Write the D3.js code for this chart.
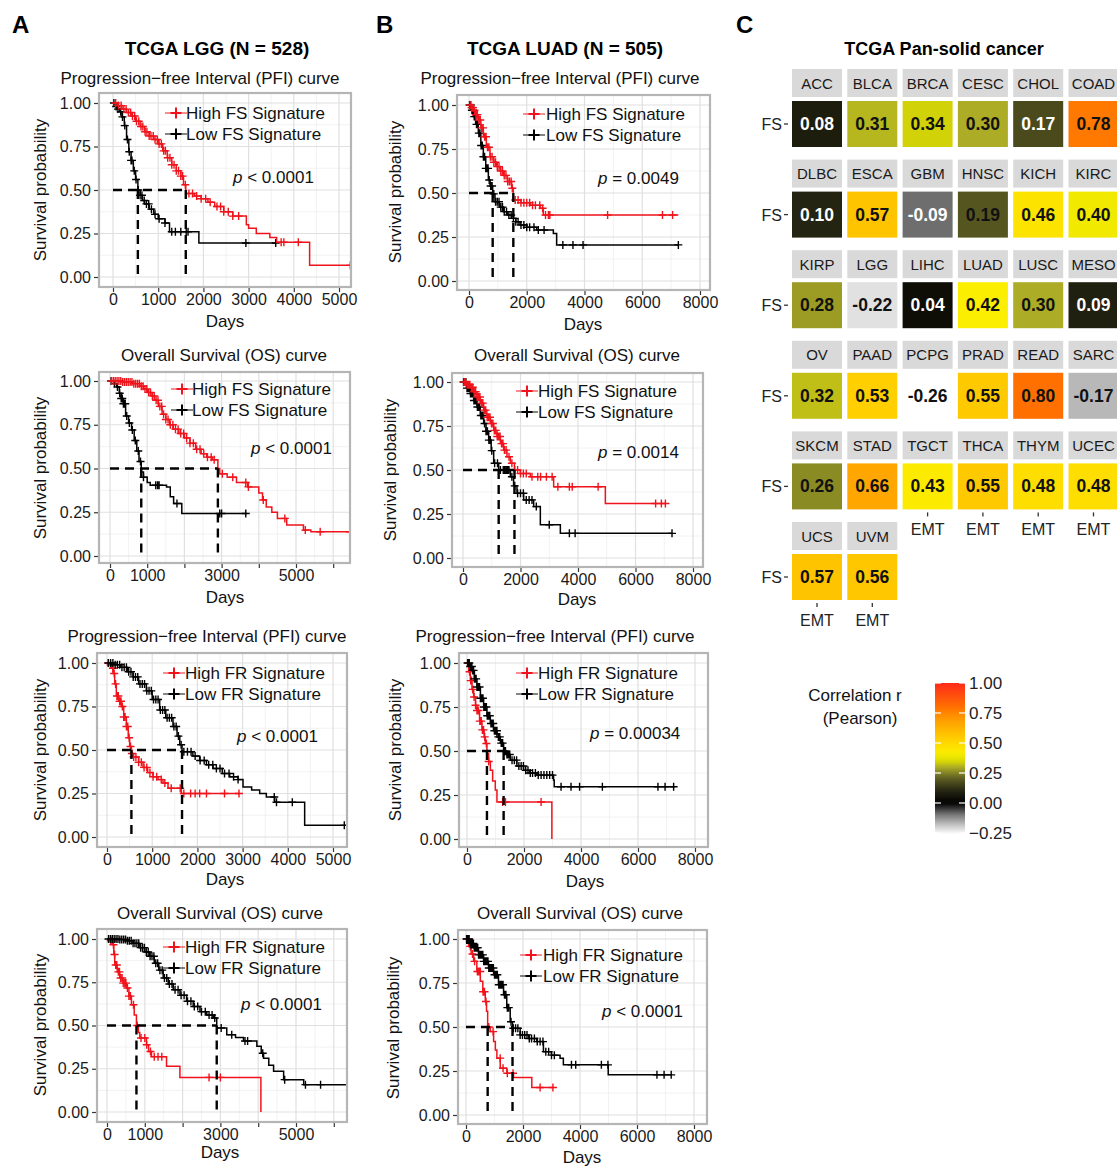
<!DOCTYPE html>
<html><head><meta charset="utf-8">
<script src="https://cdn.jsdelivr.net/npm/d3@7"></script>
<style>
body{margin:0;background:#fff}
svg{display:block}
text{font-family:"Liberation Sans",Arial,Helvetica,sans-serif}
</style>
</head><body>
<svg id="c" width="1117" height="1167"></svg>
<script>
// ===================== DATA =====================
// Kaplan-Meier step points [days, survival probability]
const lggPfiFsHigh = [[0,1],[100,0.985],[200,0.965],[300,0.945],[400,0.925],[500,0.895],[600,0.865],[700,0.835],[800,0.81],[900,0.79],[1000,0.765],[1100,0.725],[1200,0.685],[1300,0.645],[1400,0.61],[1500,0.58],[1560,0.53],[1610,0.48],[1800,0.465],[1950,0.45],[2100,0.43],[2250,0.405],[2450,0.375],[2650,0.35],[2950,0.30],[3000,0.28],[3170,0.25],[3470,0.227],[3620,0.20],[4350,0.067],[5300,0.067]];
const lggPfiFsLow = [[0,1],[50,0.98],[100,0.965],[150,0.95],[200,0.92],[250,0.87],[300,0.79],[350,0.72],[400,0.67],[450,0.61],[500,0.56],[550,0.50],[600,0.47],[650,0.44],[700,0.42],[800,0.39],[900,0.36],[1000,0.335],[1150,0.31],[1250,0.26],[1900,0.195],[3610,0.195]];
const lggPfiFsHighCens = [60,120,180,240,290,340,390,430,480,520,570,620,660,710,750,800,840,890,930,980,1020,1070,1120,1160,1210,1260,1300,1350,1400,1450,1500,1540,1600,1680,1760,1850,1950,2050,2150,2300,2380,2450,2550,2650,2780,3720,3780,4100,5250];
const lggPfiFsLowCens = [20,70,110,170,210,260,320,360,400,420,470,510,560,600,640,690,740,790,850,930,1020,1150,1300,1380,1500,1620,1660,2940,3600];

const lggOsFsHigh = [[0,1],[300,0.995],[600,0.985],[800,0.97],[900,0.955],[1000,0.935],[1100,0.915],[1200,0.89],[1300,0.855],[1400,0.81],[1500,0.78],[1600,0.75],[1700,0.725],[1850,0.70],[2000,0.675],[2150,0.645],[2300,0.61],[2450,0.585],[2600,0.565],[2750,0.55],[2900,0.50],[2950,0.47],[3150,0.45],[3400,0.42],[3700,0.395],[4000,0.36],[4100,0.32],[4200,0.28],[4350,0.25],[4500,0.215],[4750,0.177],[5200,0.148],[5400,0.139],[6480,0.139]];
const lggOsFsLow = [[0,1],[100,0.985],[180,0.966],[250,0.93],[300,0.9],[360,0.87],[420,0.80],[500,0.76],[580,0.72],[650,0.66],[720,0.60],[780,0.54],[840,0.48],[900,0.45],[1000,0.42],[1080,0.405],[1520,0.395],[1620,0.338],[1710,0.30],[1930,0.243],[3680,0.243]];
const lggOsFsHighCens = [40,90,140,190,240,290,340,390,440,490,540,590,640,690,740,790,840,890,940,990,1040,1090,1140,1190,1240,1290,1340,1390,1440,1500,1560,1620,1690,1760,1830,1900,1980,2060,2150,2240,2330,2420,2520,2620,2720,2800,3020,3300,3650,3720,4120,4700,5250,5650,6450];
const lggOsFsLowCens = [30,120,200,260,300,330,360,380,410,450,520,600,680,760,820,900,1230,1280,1320,1800,2950,3000,3650];

const lggPfiFrHigh = [[0,1],[60,0.99],[100,0.97],[133,0.94],[170,0.88],[206,0.81],[260,0.78],[317,0.75],[370,0.69],[428,0.635],[470,0.57],[501,0.52],[540,0.48],[575,0.46],[700,0.43],[797,0.40],[900,0.37],[1018,0.346],[1130,0.33],[1239,0.31],[1350,0.28],[1645,0.25],[2950,0.25]];
const lggPfiFrLow = [[0,1],[150,0.99],[300,0.975],[450,0.95],[575,0.92],[700,0.88],[870,0.84],[1000,0.79],[1165,0.73],[1300,0.685],[1460,0.635],[1550,0.58],[1610,0.53],[1660,0.49],[1900,0.465],[2050,0.44],[2200,0.415],[2345,0.394],[2550,0.365],[2714,0.346],[2900,0.33],[3009,0.288],[3200,0.27],[3378,0.25],[3525,0.23],[3710,0.20],[4373,0.067],[5300,0.067]];
const lggPfiFrHighCens = [30,80,130,160,190,220,250,280,310,340,370,400,430,460,490,520,550,590,640,700,760,820,880,950,1020,1100,1200,1280,1420,1620,1700,1850,1950,2050,2200,2600,2920];
const lggPfiFrLowCens = [30,80,130,180,230,280,330,380,430,480,530,580,630,680,730,780,830,880,930,980,1030,1080,1130,1180,1230,1280,1330,1380,1430,1480,1530,1580,1640,1700,1780,1860,1950,2060,2150,2250,2340,2420,2500,2600,2700,2800,2900,3700,3750,4100,5250];

const lggOsFrHigh = [[0,1],[100,0.99],[159,0.967],[180,0.91],[204,0.85],[270,0.81],[336,0.775],[420,0.745],[513,0.717],[580,0.67],[646,0.62],[720,0.56],[779,0.50],[830,0.46],[867,0.428],[1044,0.389],[1100,0.35],[1177,0.32],[1575,0.264],[1929,0.20],[4071,0]];
const lggOsFrLow = [[0,1],[300,0.997],[500,0.99],[690,0.975],[850,0.95],[1000,0.925],[1133,0.90],[1250,0.86],[1370,0.82],[1487,0.775],[1620,0.74],[1752,0.707],[1930,0.675],[2106,0.64],[2280,0.61],[2460,0.58],[2640,0.56],[2814,0.543],[2903,0.486],[3168,0.447],[3400,0.43],[3611,0.41],[3965,0.38],[4080,0.34],[4142,0.31],[4280,0.27],[4407,0.235],[4673,0.187],[5204,0.158],[6430,0.158]];
const lggOsFrHighCens = [100,140,170,200,230,260,300,330,360,400,430,470,500,540,580,620,700,800,900,1000,1050,1150,1250,1350,1450,2700,3000];
const lggOsFrLowCens = [40,90,140,190,240,290,340,390,440,490,540,590,640,690,740,790,840,890,940,990,1040,1090,1140,1190,1240,1290,1340,1400,1460,1520,1580,1650,1720,1800,1880,1960,2040,2130,2220,2310,2400,2500,2600,2700,2780,2850,3020,3300,3650,3720,4120,4700,5250,5650,6430];

const luadPfiFsHigh = [[0,1],[80,0.985],[150,0.97],[230,0.945],[323,0.915],[410,0.87],[496,0.82],[600,0.76],[727,0.706],[850,0.675],[958,0.65],[1080,0.625],[1189,0.60],[1330,0.565],[1478,0.527],[1535,0.46],[1800,0.445],[2113,0.43],[2459,0.413],[2574,0.375],[7250,0.375]];
const luadPfiFsLow = [[0,1],[70,0.97],[150,0.934],[230,0.89],[323,0.84],[410,0.77],[496,0.706],[580,0.64],[670,0.574],[730,0.54],[820,0.495],[900,0.45],[1050,0.42],[1189,0.394],[1330,0.375],[1478,0.356],[1620,0.337],[1766,0.318],[2000,0.305],[2344,0.29],[2921,0.27],[3036,0.205],[7250,0.205]];
const luadPfiFsHighCens = [40,90,140,190,240,290,340,390,440,490,540,590,640,690,740,800,860,920,980,1040,1100,1160,1220,1280,1340,1400,1460,1500,1600,1700,1800,1900,2000,2100,2200,2300,2450,2550,2650,2750,2800,4800,6700,7050];
const luadPfiFsLowCens = [20,60,100,140,180,220,260,300,340,380,420,460,500,540,580,620,660,700,750,800,860,920,980,1040,1100,1160,1220,1300,1380,1460,1540,1620,1700,1800,1900,2000,2100,2250,2400,2600,3250,3600,3950,7250];

const luadOsFsHigh = [[0,1],[120,0.985],[255,0.97],[370,0.945],[487,0.915],[600,0.88],[719,0.84],[830,0.80],[951,0.764],[1070,0.725],[1183,0.69],[1300,0.65],[1414,0.613],[1530,0.575],[1646,0.538],[1790,0.50],[1994,0.48],[2342,0.462],[3153,0.405],[4951,0.31],[7040,0.31]];
const luadOsFsLow = [[0,1],[120,0.965],[255,0.934],[370,0.895],[487,0.858],[600,0.81],[719,0.764],[800,0.72],[893,0.67],[980,0.61],[1067,0.538],[1241,0.50],[1646,0.462],[1760,0.41],[1878,0.368],[2110,0.33],[2458,0.292],[2690,0.189],[3386,0.14],[7270,0.14]];
const luadOsFsHighCens = [40,90,140,190,240,290,340,390,440,490,540,590,640,690,740,790,840,890,940,990,1040,1090,1140,1190,1240,1290,1340,1390,1440,1500,1600,1700,1800,1900,2000,2100,2200,2400,2600,2700,2900,3100,3300,3700,3800,4700,6700,6900,7040];
const luadOsFsLowCens = [20,60,100,140,180,220,260,300,340,380,420,460,500,540,580,620,660,700,750,800,850,900,950,1000,1100,1200,1300,1400,1450,1500,1550,1600,1700,1800,1900,2000,2100,2200,2300,2400,2550,3000,3700,3900,7270];

const luadPfiFrHigh = [[0,1],[60,0.95],[117,0.90],[175,0.85],[234,0.807],[300,0.76],[350,0.73],[440,0.67],[526,0.62],[600,0.58],[642,0.543],[700,0.486],[760,0.44],[818,0.39],[900,0.33],[993,0.278],[1051,0.21],[2978,0]];
const luadPfiFrLow = [[0,1],[90,0.98],[175,0.958],[260,0.91],[350,0.864],[470,0.80],[584,0.75],[700,0.70],[818,0.656],[930,0.615],[1051,0.58],[1170,0.545],[1285,0.50],[1400,0.48],[1518,0.448],[1750,0.415],[1986,0.39],[2200,0.375],[2453,0.363],[3037,0.335],[3060,0.297],[7300,0.297]];
const luadPfiFrHighCens = [40,90,130,160,200,250,300,350,400,450,500,540,580,620,680,760,1250,1350,2600];
const luadPfiFrLowCens = [20,50,80,110,140,170,200,230,260,290,320,350,380,410,440,470,500,530,560,590,620,650,680,710,740,770,800,840,880,920,960,1000,1050,1100,1150,1200,1250,1300,1350,1400,1450,1500,1580,1660,1740,1820,1900,1980,2060,2140,2220,2300,2400,2500,2600,2700,2800,2900,3000,3300,3650,3950,4750,6700,6950,7250];

const luadOsFrHigh = [[0,1],[93,0.958],[180,0.915],[268,0.873],[380,0.815],[501,0.76],[590,0.70],[676,0.645],[720,0.59],[760,0.50],[851,0.474],[968,0.417],[1030,0.37],[1084,0.323],[1201,0.266],[1434,0.237],[1667,0.213],[2309,0.156],[3067,0.156]];
const luadOsFrLow = [[0,1],[130,0.975],[268,0.95],[440,0.91],[618,0.873],[790,0.835],[968,0.797],[1140,0.74],[1318,0.683],[1430,0.61],[1551,0.53],[1632,0.493],[1900,0.455],[2200,0.435],[2484,0.417],[2717,0.36],[3000,0.34],[3300,0.323],[3416,0.285],[4932,0.285],[4990,0.228],[7206,0.228]];
const luadOsFrHighCens = [30,80,150,230,300,400,450,500,600,650,700,800,950,1200,1300,1450,1650,2600,3050];
const luadOsFrLowCens = [20,50,80,110,140,170,200,230,260,290,320,350,380,410,440,470,500,530,560,590,620,650,680,710,740,770,800,840,880,920,960,1000,1050,1100,1150,1200,1250,1300,1350,1400,1450,1500,1580,1660,1740,1820,1900,1980,2060,2140,2220,2300,2400,2500,2600,2700,2800,2900,3000,3100,3700,3850,4750,4980,6700,6950,7200];

const yTicks = [0, 0.25, 0.5, 0.75, 1];
const lggXTicks = [0,1000,2000,3000,4000,5000];
const lggOsXTicks = [0,1000,2000,3000,4000,5000,6000];
const lggOsXLabels = [0,1000,3000,5000];
const luadXTicks = [0,2000,4000,6000,8000];
const pValues = ["< 0.0001","< 0.0001","< 0.0001","< 0.0001","= 0.0049","= 0.0014","= 0.00034","< 0.0001"];

// Heatmap (panel C)
const cancers = ["ACC","BLCA","BRCA","CESC","CHOL","COAD","DLBC","ESCA","GBM","HNSC","KICH","KIRC","KIRP","LGG","LIHC","LUAD","LUSC","MESO","OV","PAAD","PCPG","PRAD","READ","SARC","SKCM","STAD","TGCT","THCA","THYM","UCEC","UCS","UVM"];
const fsCorr = [0.08,0.31,0.34,0.30,0.17,0.78,0.10,0.57,-0.09,0.19,0.46,0.40,0.28,-0.22,0.04,0.42,0.30,0.09,0.32,0.53,-0.26,0.55,0.80,-0.17,0.26,0.66,0.43,0.55,0.48,0.48,0.57,0.56];
const legendTicks = [1.00,0.75,0.50,0.25,0.00,-0.25];
const colorStops = [-0.26,-0.2,-0.1,0,0.1,0.2,0.3,0.35,0.42,0.5,0.6,0.7,0.8,1.0];
const colorValues = ["#ffffff","#d2d2d2","#7a7a7a","#000000","#242412","#5a5a22","#acac26","#dcdc00","#fbee00","#ffd800","#ffbb00","#ff9a00","#ff7000","#ff2a1a"];

// ===================== LAYOUT =====================
const plots = [
 {title:"Progression\u2212free Interval (PFI) curve", tx:200, ty:78, box:[99,93,351,287], xmax:5000, xr:[113,339], yr:[277,103], ticks:lggXTicks, labels:lggXTicks,
  high:lggPfiFsHigh, low:lggPfiFsLow, highC:lggPfiFsHighCens, lowC:lggPfiFsLowCens, sig:"FS", kx:176, kt:186, ly:[113,134], px:233, py:177, days:[225,322], ylab:[40,190]},
 {title:"Overall Survival (OS) curve", tx:224, ty:355, box:[99,372,350,563], xmax:5000, xr:[110,296], yr:[556,381], ticks:lggOsXTicks, labels:lggOsXLabels,
  high:lggOsFsHigh, low:lggOsFsLow, highC:lggOsFsHighCens, lowC:lggOsFsLowCens, sig:"FS", kx:182, kt:192, ly:[389,410], px:251, py:448, days:[225,598], ylab:[40,468]},
 {title:"Progression\u2212free Interval (PFI) curve", tx:207, ty:636, box:[97,653,347,847], xmax:5000, xr:[107,333], yr:[837,663], ticks:lggXTicks, labels:lggXTicks,
  high:lggPfiFrHigh, low:lggPfiFrLow, highC:lggPfiFrHighCens, lowC:lggPfiFrLowCens, sig:"FR", kx:174, kt:185, ly:[673,694], px:237, py:736, days:[225,880], ylab:[40,750]},
 {title:"Overall Survival (OS) curve", tx:220, ty:913, box:[97,929,347,1122], xmax:5000, xr:[107,296], yr:[1112,939], ticks:lggOsXTicks, labels:lggOsXLabels,
  high:lggOsFrHigh, low:lggOsFrLow, highC:lggOsFrHighCens, lowC:lggOsFrLowCens, sig:"FR", kx:174, kt:185, ly:[947,968], px:241, py:1004, days:[220,1153], ylab:[40,1025]},
 {title:"Progression\u2212free Interval (PFI) curve", tx:560, ty:78, box:[457,95,710,290], xmax:8000, xr:[469,700], yr:[281,105], ticks:luadXTicks, labels:luadXTicks,
  high:luadPfiFsHigh, low:luadPfiFsLow, highC:luadPfiFsHighCens, lowC:luadPfiFsLowCens, sig:"FS", kx:534, kt:546, ly:[114,135], px:598, py:178, days:[583,325], ylab:[395,192]},
 {title:"Overall Survival (OS) curve", tx:577, ty:355, box:[452,373,703,567], xmax:8000, xr:[463,693], yr:[558,382], ticks:luadXTicks, labels:luadXTicks,
  high:luadOsFsHigh, low:luadOsFsLow, highC:luadOsFsHighCens, lowC:luadOsFsLowCens, sig:"FS", kx:527, kt:538, ly:[391,412], px:598, py:452, days:[577,600], ylab:[390,470]},
 {title:"Progression\u2212free Interval (PFI) curve", tx:555, ty:636, box:[459,653,708,847], xmax:8000, xr:[467,695], yr:[839,663], ticks:luadXTicks, labels:luadXTicks,
  high:luadPfiFrHigh, low:luadPfiFrLow, highC:luadPfiFrHighCens, lowC:luadPfiFrLowCens, sig:"FR", kx:527, kt:538, ly:[673,694], px:590, py:733, days:[585,882], ylab:[395,750]},
 {title:"Overall Survival (OS) curve", tx:580, ty:913, box:[458,930,707,1124], xmax:8000, xr:[466,694], yr:[1115,939], ticks:luadXTicks, labels:luadXTicks,
  high:luadOsFrHigh, low:luadOsFrLow, highC:luadOsFrHighCens, lowC:luadOsFrLowCens, sig:"FR", kx:531, kt:543, ly:[955,976], px:602, py:1011, days:[582,1158], ylab:[393,1028]}
];

const RED = "#f0131b";
const svg = d3.select("#c");

// panel letters and column titles
svg.append("text").attr("x",12).attr("y",33).attr("font-size",24).attr("font-weight","bold").text("A");
svg.append("text").attr("x",376).attr("y",33).attr("font-size",24).attr("font-weight","bold").text("B");
svg.append("text").attr("x",736).attr("y",33).attr("font-size",24).attr("font-weight","bold").text("C");
svg.append("text").attr("x",217).attr("y",55).attr("font-size",19).attr("font-weight","bold").attr("text-anchor","middle").text("TCGA LGG (N = 528)");
svg.append("text").attr("x",565).attr("y",55).attr("font-size",19).attr("font-weight","bold").attr("text-anchor","middle").text("TCGA LUAD (N = 505)");

function stepVal(curve, t){ let v = curve[0][1]; for (const [tt,s] of curve){ if (tt <= t) v = s; else break; } return v; }
function medianOf(curve){ const p = curve.find(d => d[1] <= 0.5); return p ? p[0] : null; }
function plusPath(x,y,r){ return `M${x-r},${y}H${x+r}M${x},${y-r}V${y+r}`; }

plots.forEach((p, i) => {
  const g = svg.append("g");
  const [bx1,by1,bx2,by2] = p.box;
  const xs = d3.scaleLinear().domain([0,p.xmax]).range(p.xr);
  const ys = d3.scaleLinear().domain([0,1]).range(p.yr);

  // title
  g.append("text").attr("x",p.tx).attr("y",p.ty+6).attr("text-anchor","middle").attr("font-size",17).attr("fill","#111").text(p.title);

  // grid
  const step = p.ticks[1]-p.ticks[0];
  const tMin = xs.invert(bx1), tMax = xs.invert(bx2);
  const xMinor = d3.range(-step/2, tMax, step).filter(t => t > tMin && t < tMax);
  const yMinor = [0.125,0.375,0.625,0.875];
  g.selectAll(null).data(xMinor).join("line").attr("x1",d=>xs(d)).attr("x2",d=>xs(d)).attr("y1",by1).attr("y2",by2).attr("stroke","#efefef").attr("stroke-width",0.8);
  g.selectAll(null).data(yMinor).join("line").attr("y1",d=>ys(d)).attr("y2",d=>ys(d)).attr("x1",bx1).attr("x2",bx2).attr("stroke","#efefef").attr("stroke-width",0.8);
  g.selectAll(null).data(p.ticks).join("line").attr("x1",d=>xs(d)).attr("x2",d=>xs(d)).attr("y1",by1).attr("y2",by2).attr("stroke","#e0e0e0").attr("stroke-width",1.2);
  g.selectAll(null).data(yTicks).join("line").attr("y1",d=>ys(d)).attr("y2",d=>ys(d)).attr("x1",bx1).attr("x2",bx2).attr("stroke","#e0e0e0").attr("stroke-width",1.2);

  // axes
  const ya = g.append("g").attr("transform",`translate(${bx1-1},0)`)
    .call(d3.axisLeft(ys).tickValues(yTicks).tickFormat(d3.format(".2f")).tickSize(4).tickPadding(3));
  const xa = g.append("g").attr("transform",`translate(0,${by2+1})`)
    .call(d3.axisBottom(xs).tickValues(p.ticks).tickFormat(d => p.labels.includes(d) ? d : "").tickSize(4).tickPadding(2));
  [ya,xa].forEach(a => {
    a.select(".domain").remove();
    a.selectAll(".tick line").attr("stroke","#333").attr("stroke-width",1.2);
    a.selectAll(".tick text").attr("font-size",16).attr("fill","#1a1a1a").attr("font-family",'"Liberation Sans",Arial,sans-serif');
  });

  // axis titles
  g.append("text").attr("x",p.days[0]).attr("y",p.days[1]+5).attr("text-anchor","middle").attr("font-size",17).attr("fill","#111").text("Days");
  g.append("text").attr("transform",`translate(${p.ylab[0]+6},${p.ylab[1]}) rotate(-90)`).attr("text-anchor","middle").attr("font-size",17).attr("fill","#111").text("Survival probability");

  // clip
  const cid = "clip"+i;
  svg.append("clipPath").attr("id",cid).append("rect").attr("x",bx1).attr("y",by1).attr("width",bx2-bx1).attr("height",by2-by1);
  const pg = g.append("g").attr("clip-path",`url(#${cid})`);

  const line = d3.line().x(d=>xs(d[0])).y(d=>ys(d[1])).curve(d3.curveStepAfter);
  const series = [
    {curve:p.low, cens:p.lowC, color:"#000"},
    {curve:p.high, cens:p.highC, color:RED}
  ];
  const order = p.sig === "FS" ? [series[0],series[1]] : [series[1],series[0]];
  order.forEach(s => {
    pg.append("path").attr("d",line(s.curve)).attr("fill","none").attr("stroke",s.color).attr("stroke-width",1.5);
    pg.append("path").attr("d", s.cens.map(t => plusPath(xs(t), ys(stepVal(s.curve,t)), 4)).join(""))
      .attr("stroke",s.color).attr("stroke-width",1.4).attr("fill","none");
  });

  // median lines
  const meds = [medianOf(p.high), medianOf(p.low)].filter(d => d !== null);
  const mMax = d3.max(meds);
  pg.append("line").attr("x1",xs(0)).attr("x2",xs(mMax)).attr("y1",ys(0.5)).attr("y2",ys(0.5))
    .attr("stroke","#000").attr("stroke-width",2.4).attr("stroke-dasharray","9,6");
  meds.forEach(m => {
    pg.append("line").attr("x1",xs(m)).attr("x2",xs(m)).attr("y1",ys(0.5)).attr("y2",ys(0))
      .attr("stroke","#000").attr("stroke-width",2.4).attr("stroke-dasharray","9,6");
  });

  // border
  g.append("rect").attr("x",bx1).attr("y",by1).attr("width",bx2-bx1).attr("height",by2-by1)
    .attr("fill","none").attr("stroke","#b5b5b5").attr("stroke-width",2.2);

  // legend
  const leg = [{lab:`High ${p.sig} Signature`, color:RED},{lab:`Low ${p.sig} Signature`, color:"#000"}];
  leg.forEach((l,k) => {
    const y = p.ly[k];
    g.append("line").attr("x1",p.kx-11).attr("x2",p.kx+11).attr("y1",y).attr("y2",y).attr("stroke",l.color).attr("stroke-width",1.2).attr("opacity",0.8);
    g.append("path").attr("d",plusPath(p.kx,y,5.5)).attr("stroke",l.color).attr("stroke-width",2);
    g.append("text").attr("x",p.kt).attr("y",y+6).attr("font-size",17).attr("fill","#111").text(l.lab);
  });
  const pt = g.append("text").attr("x",p.px).attr("y",p.py+6).attr("font-size",17).attr("fill","#111");
  pt.append("tspan").attr("font-style","italic").text("p");
  pt.append("tspan").text(" " + pValues[i]);
});

// ===================== PANEL C =====================
const color = d3.scaleLinear().domain(colorStops).range(colorValues).clamp(true);
svg.append("text").attr("x",944).attr("y",55).attr("text-anchor","middle").attr("font-size",18).attr("font-weight","bold").text("TCGA Pan-solid cancer");

const nCols = 6;
const colX = d3.scaleLinear().domain([0,5]).range([792,1068.5]);
const rowTop = r => 69 + r*90.6;
const hc = svg.append("g");
cancers.forEach((c, i) => {
  const r = Math.floor(i / nCols), k = i % nCols;
  const x = colX(k), w = 50;
  const y0 = rowTop(r);
  hc.append("rect").attr("x",x).attr("y",y0).attr("width",w).attr("height",28).attr("fill","#d9d9d9");
  hc.append("text").attr("x",x+w/2).attr("y",y0+19.5).attr("text-anchor","middle").attr("font-size",15).attr("fill","#1a1a1a").text(c);
  const v = fsCorr[i];
  hc.append("rect").attr("x",x).attr("y",y0+32).attr("width",w).attr("height",46).attr("fill",color(v));
  const white = v > -0.12 && v < 0.18;
  hc.append("text").attr("x",x+w/2).attr("y",y0+32+29).attr("text-anchor","middle").attr("font-size",17.5).attr("font-weight","bold")
    .attr("fill", white ? "#fff" : "#111").text(d3.format(".2f")(v).replace("\u2212","-"));
  if (k === 0) {
    hc.append("text").attr("x",782).attr("y",y0+32+29).attr("text-anchor","end").attr("font-size",16).attr("fill","#222").text("FS");
    hc.append("line").attr("x1",784).attr("x2",788).attr("y1",y0+32+23).attr("y2",y0+32+23).attr("stroke","#333").attr("stroke-width",1.3);
  }
  if (i + nCols >= cancers.length) {
    const yb = y0+32+46;
    hc.append("line").attr("x1",x+w/2).attr("x2",x+w/2).attr("y1",yb+3).attr("y2",yb+7).attr("stroke","#333").attr("stroke-width",1.3);
    hc.append("text").attr("x",x+w/2).attr("y",yb+26).attr("text-anchor","middle").attr("font-size",16).attr("fill","#222").text("EMT");
  }
});

// colour legend
const ly = d3.scaleLinear().domain([1,-0.25]).range([683,833]);
const defs = svg.append("defs");
const grad = defs.append("linearGradient").attr("id","cbar").attr("x1",0).attr("x2",0).attr("y1",0).attr("y2",1);
d3.range(0,41).forEach(j => {
  const v = 1 - j*(1.26/40);
  grad.append("stop").attr("offset",(j/40)).attr("stop-color",color(v));
});
svg.append("rect").attr("x",935).attr("y",ly(1)).attr("width",30).attr("height",ly(-0.26)-ly(1)).attr("fill","url(#cbar)");
legendTicks.forEach(v => {
  const y = ly(v);
  svg.append("line").attr("x1",935).attr("x2",941).attr("y1",y).attr("y2",y).attr("stroke","#fff").attr("stroke-width",1.2);
  svg.append("line").attr("x1",959).attr("x2",965).attr("y1",y).attr("y2",y).attr("stroke","#fff").attr("stroke-width",1.2);
  svg.append("text").attr("x",969).attr("y",y+6).attr("font-size",17).attr("fill","#222").text(d3.format(".2f")(v));
});
svg.append("text").attr("x",855).attr("y",701).attr("text-anchor","middle").attr("font-size",17).attr("fill","#111").text("Correlation r");
svg.append("text").attr("x",860).attr("y",724).attr("text-anchor","middle").attr("font-size",17).attr("fill","#111").text("(Pearson)");
</script>
</body></html>
